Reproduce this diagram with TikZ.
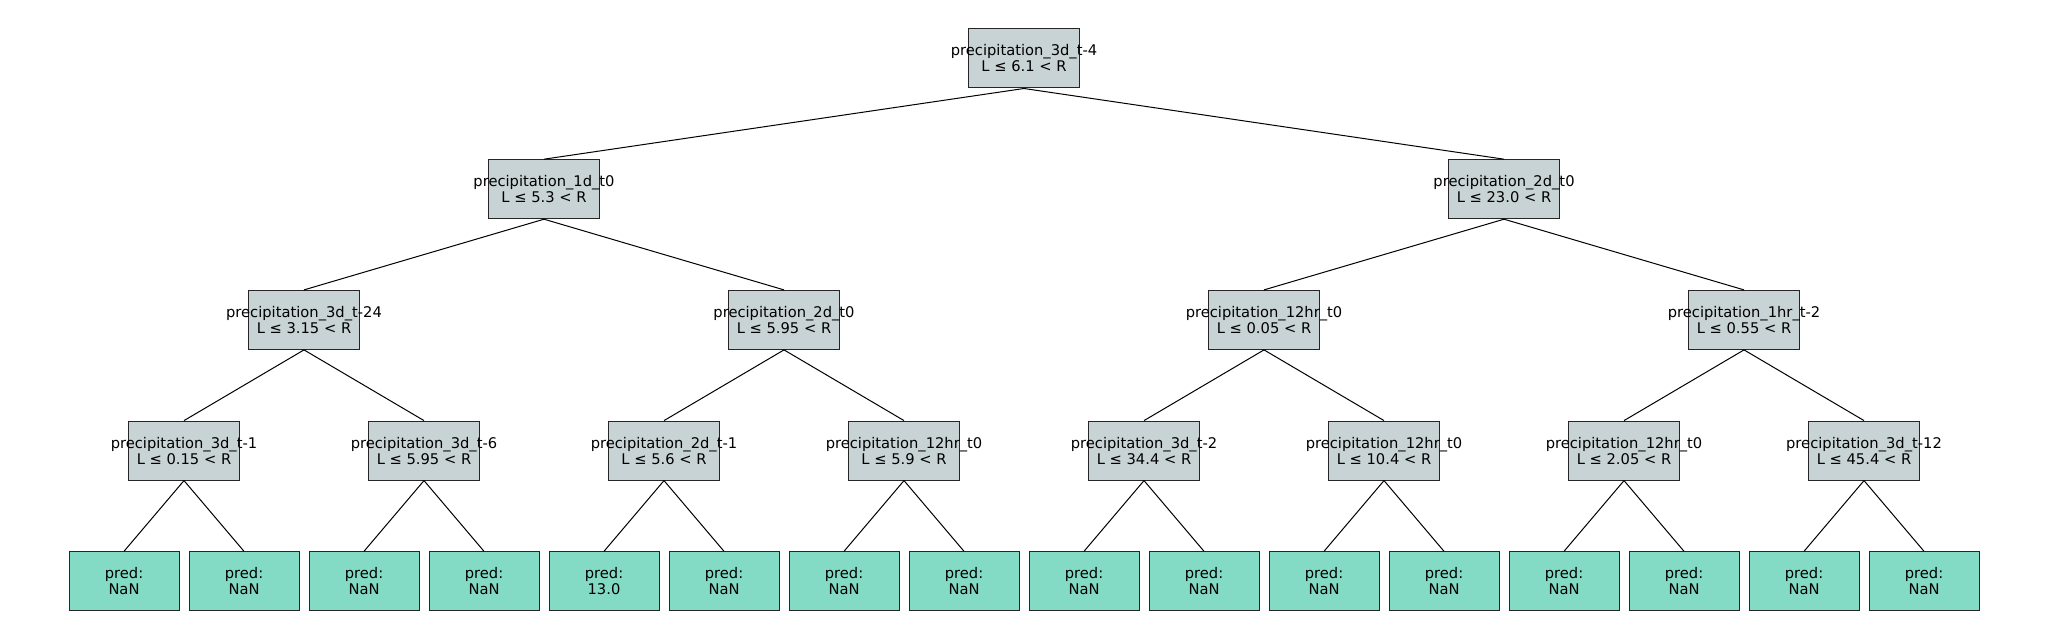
\documentclass[tikz,border=0pt]{standalone}
\usepackage{fontspec}
\setmainfont{DejaVu Sans}
\definecolor{splitfill}{RGB}{200,211,213}
\definecolor{leaffill}{RGB}{132,219,197}
\newcommand{\nolen}[1]{\makebox[0pt]{#1}}
\newcommand{\splitlabel}[2]{\nolen{#1}\\\nolen{#2}}
\tikzset{
  splitbox/.style={draw=black!85, line width=0.5pt, fill=splitfill,
    minimum width=55.5pt, minimum height=29.5pt, inner sep=0pt,
    align=center, font=\fontsize{7.35}{8}\selectfont},
  leafbox/.style={splitbox, fill=leaffill, minimum width=55pt},
  branch/.style={line width=0.5pt}
}
\begin{document}
\begin{tikzpicture}[x=0.5pt,y=-0.5pt]
  \useasboundingbox (0,0) rectangle (2048,640);
  % root
  \node[splitbox] (r) at (1024,58.5) {\splitlabel{precipitation\_3d\_t-4}{L ≤ 6.1 < R}};
  % depth 1
  \node[splitbox] (a0) at (544,189.2) {\splitlabel{precipitation\_1d\_t0}{L ≤ 5.3 < R}};
  \node[splitbox] (a1) at (1504,189.2) {\splitlabel{precipitation\_2d\_t0}{L ≤ 23.0 < R}};
  % depth 2
  \node[splitbox] (b0) at (304,319.9) {\splitlabel{precipitation\_3d\_t-24}{L ≤ 3.15 < R}};
  \node[splitbox] (b1) at (784,319.9) {\splitlabel{precipitation\_2d\_t0}{L ≤ 5.95 < R}};
  \node[splitbox] (b2) at (1264,319.9) {\splitlabel{precipitation\_12hr\_t0}{L ≤ 0.05 < R}};
  \node[splitbox] (b3) at (1744,319.9) {\splitlabel{precipitation\_1hr\_t-2}{L ≤ 0.55 < R}};
  % depth 3
  \foreach \k/\feat/\thr in {0/3d\_t-1/0.15, 1/3d\_t-6/5.95, 2/2d\_t-1/5.6,
                             3/12hr\_t0/5.9, 4/3d\_t-2/34.4, 5/12hr\_t0/10.4,
                             6/12hr\_t0/2.05, 7/3d\_t-12/45.4}
    \node[splitbox] (c\k) at (184+240*\k,450.6) {\splitlabel{precipitation\_\feat}{L ≤ \thr{} < R}};
  % leaves
  \foreach \k/\val in {0/NaN,1/NaN,2/NaN,3/NaN,4/13.0,5/NaN,6/NaN,7/NaN,
                       8/NaN,9/NaN,10/NaN,11/NaN,12/NaN,13/NaN,14/NaN,15/NaN}
    \node[leafbox] (l\k) at (124+120*\k,581.3) {\splitlabel{pred:}{\val}};
  % branches
  \draw[branch] (r.south) -- (a0.north);
  \draw[branch] (r.south) -- (a1.north);
  \foreach \k in {0,...,3} {
    \pgfmathtruncatemacro{\p}{\k/2}
    \draw[branch] (a\p.south) -- (b\k.north);
  }
  \foreach \k in {0,...,7} {
    \pgfmathtruncatemacro{\p}{\k/2}
    \draw[branch] (b\p.south) -- (c\k.north);
  }
  \foreach \k in {0,...,15} {
    \pgfmathtruncatemacro{\p}{\k/2}
    \draw[branch] (c\p.south) -- (l\k.north);
  }
\end{tikzpicture}
\end{document}
